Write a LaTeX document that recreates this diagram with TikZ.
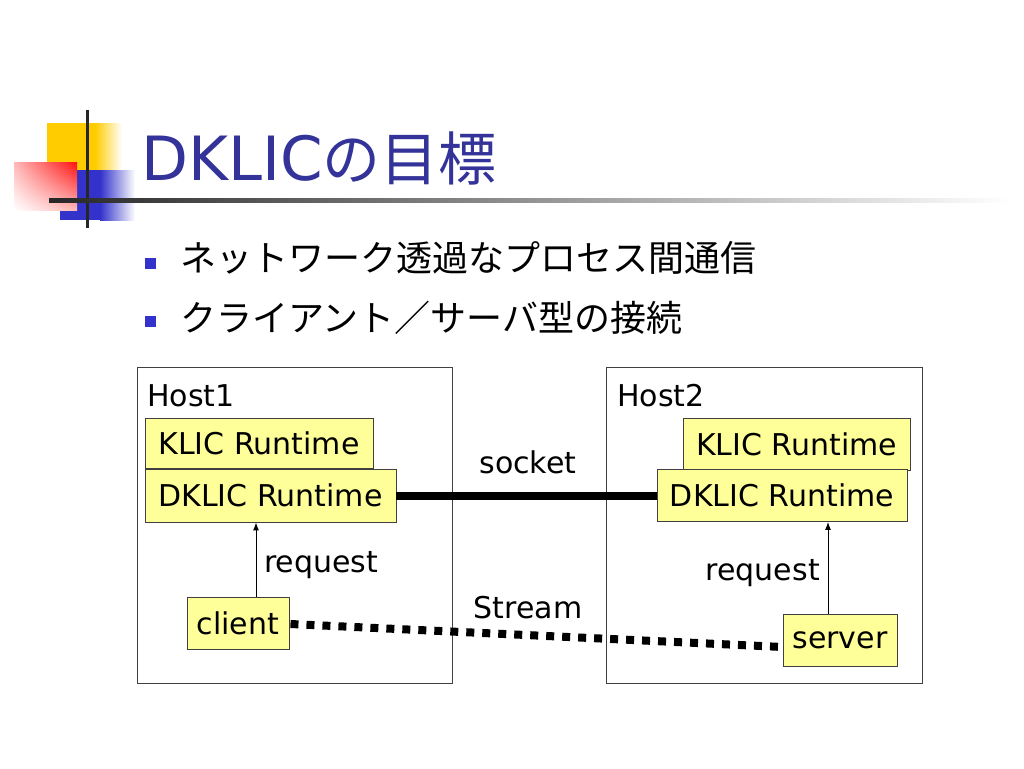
\documentclass[tikz,border=0pt]{standalone}
\usepackage{fontspec}
\setmainfont{DejaVu Sans}
\newfontfamily\jp{Noto Sans CJK JP}
\usetikzlibrary{arrows.meta,calc,shadings}
\definecolor{yfill}{HTML}{FFFF99}
\definecolor{tblue}{HTML}{333399}
\definecolor{bblue}{HTML}{3333CC}
\definecolor{dyel}{HTML}{FFCC00}
\definecolor{dred}{HTML}{FF1010}
\tikzset{
  hostbox/.style={draw=black!75, line width=0.9, minimum width=#1, minimum height=316, inner sep=0},
  ybox/.style={draw=black!75, line width=0.9, fill=yfill, inner sep=0, font=\fontsize{30}{30}\selectfont},
  lbl/.style={inner sep=0, font=\fontsize{30}{30}\selectfont},
  req/.style={line width=1, -{Latex[length=8,width=6]}},
  sock/.style={line width=8},
  strm/.style={line width=8, dash pattern=on 8 off 8},
  bullettxt/.style={inner sep=0, anchor=west, font=\jp\fontsize{36}{36}\selectfont}
}
\begin{document}
\begin{tikzpicture}[x=1pt,y=-1pt]
\useasboundingbox (0,0) rectangle (1024,768);
\fill[white] (0,0) rectangle (1024,768);
% decoration
\fill[dyel] (47,123) rectangle (95,170);
\shade[left color=dyel, right color=white] (95,123) rectangle (122,170);
\fill[bblue] (60,170) rectangle (100,220);
\shade[left color=bblue, right color=white] (100,170) rectangle (135,220);
\shade[upper left=dred!30, upper right=dred, lower left=white, lower right=dred!30] (14,162) rectangle (77,210);
\fill[black!85] (85.5,110) rectangle (88.5,228);
\shade[left color=black!85, right color=white] (49,198) rectangle (1010,202);
% title
\node[inner sep=0, anchor=base west, text=tblue, font=\fontsize{61}{61}\selectfont] (title) at (141,180) {DKLIC{\jp\fontsize{58}{58}\selectfont の目標}};
% bullets
\fill[bblue] (145,258) rectangle (156,269);
\fill[bblue] (145,316) rectangle (156,327);
\node[bullettxt] (b1) at (180,258) {ネットワーク透過なプロセス間通信};
\node[bullettxt] (b2) at (180,318) {クライアント／サーバ型の接続};
% hosts
\node[hostbox=315] (h1) at (294.5,525) {};
\node[hostbox=316] (h2) at (764,525) {};
\node[lbl, anchor=base west] (h1l) at (147,406) {Host1};
\node[lbl, anchor=base west] (h2l) at (617,406) {Host2};
% host1 boxes
\node[ybox, minimum width=228, minimum height=50] (k1) at (259,443) {KLIC Runtime};
\node[ybox, minimum width=251, minimum height=53] (d1) at (270.5,495.5) {DKLIC Runtime};
\node[ybox, minimum width=102, minimum height=52] (c1) at (238,623) {client};
% host2 boxes
\node[ybox, minimum width=227, minimum height=52] (k2) at (796.5,444) {KLIC Runtime};
\node[ybox, minimum width=250, minimum height=52] (d2) at (782,495.5) {DKLIC Runtime};
\node[ybox, minimum width=114, minimum height=52] (s2) at (840,640) {server};
% arrows
\coordinate (a1) at (256,0);
\coordinate (a2) at (828,0);
\draw[req] (a1 |- c1.north) -- (a1 |- d1.south);
\draw[req] (a2 |- s2.north) -- (a2 |- d2.south);
\node[lbl, anchor=base west] (r1) at (264,572) {request};
\node[lbl, anchor=base east] (r2) at (820,580) {request};
% socket and stream
\draw[sock] (d1.east) -- (d1.east -| d2.west);
\node[lbl, anchor=base] (sk) at (528,473) {socket};
\draw[strm] ($(c1.east)+(1,1)$) -- ($(s2.west)+(0,7)$);
\node[lbl, anchor=base] (st) at (528,618) {Stream};
\end{tikzpicture}
\end{document}
